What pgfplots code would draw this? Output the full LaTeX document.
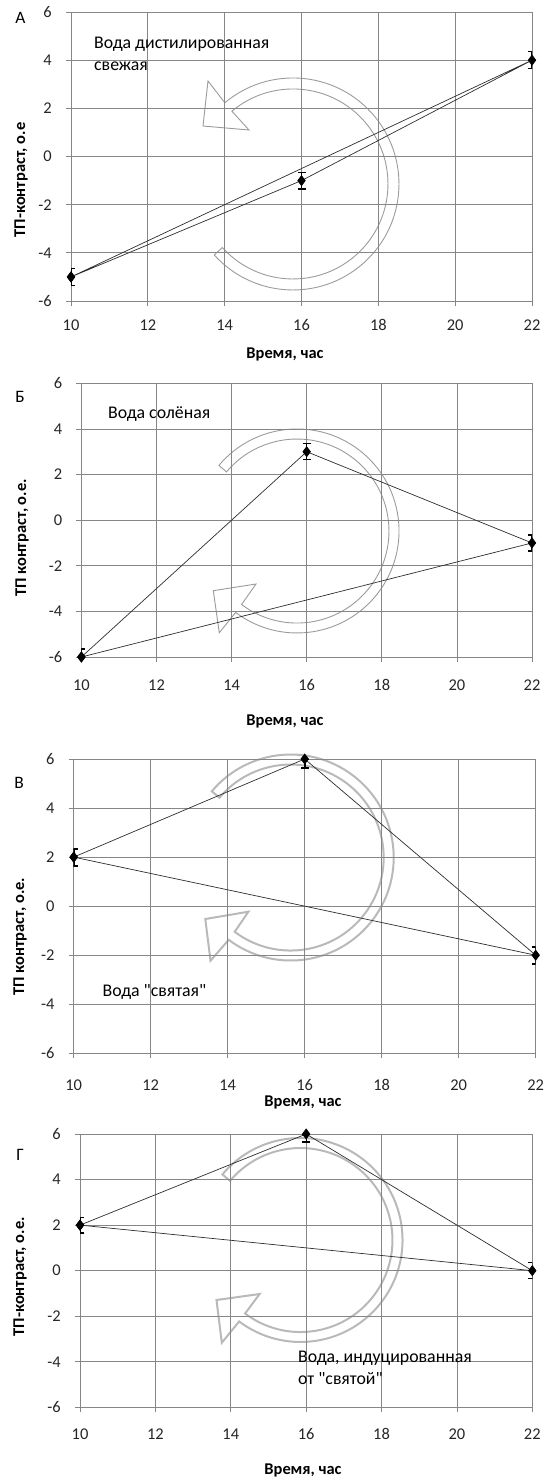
\documentclass[border=0pt]{standalone}
\usepackage{fontspec}
\setmainfont{Carlito}
\usepackage{pgfplots}
\pgfplotsset{compat=1.18}

\definecolor{gridc}{RGB}{134,134,134}
\definecolor{linec}{RGB}{45,45,45}
\definecolor{arrowc}{RGB}{155,155,155}
\definecolor{arrowl}{RGB}{185,185,185}

\newcommand{\labfont}{\fontsize{16.5}{18}\selectfont\bfseries}
\newcommand{\txtfont}{\fontsize{17.5}{21.8}\selectfont}
% plain font without TeX mapping, so that " stays straight
\font\notefont="Carlito" at 17.8bp

\pgfplotsset{
  panel/.style={
    scale only axis,
    xmin=10, xmax=22, ymin=-6, ymax=6,
    xtick={10,12,...,22}, xticklabels={10,12,14,16,18,20,22},
    ytick={-6,-4,...,6}, yticklabels={-6,-4,-2,0,2,4,6},
    grid=major,
    major grid style={gridc, line width=0.8bp},
    axis line style={gridc, line width=0.8bp},
    tick style={gridc, line width=0.8bp},
    tick align=outside, major tick length=5bp, tick pos=left,
    ticklabel style={font=\fontsize{16.5}{18}\selectfont, text=black!85},
    xticklabel style={anchor=base, yshift=-27bp},
    yticklabel style={anchor=east, inner sep=0pt, xshift=-14bp},
  },
  data/.style={linec, line width=0.7bp, mark=diamond*, mark size=5bp,
    mark options={black, solid},
    error bars/y dir=both, error bars/y explicit,
    error bars/error bar style={black, line width=#1},
    error bars/error mark options={rotate=90, black, mark size=4bp, line width=#1}},
  data/.default=1.2bp,
}

% time, contrast, error up, error down
\pgfplotstableread{
x  y  ep   em
10 -5 0.35 0.35
16 -1 0.35 0.35
22  4 0.35 0.35
10 -5 0.35 0.35
}\distilled
\pgfplotstableread{
x  y  ep   em
10 -6 0.35 0
16  3 0.35 0.35
22 -1 0.35 0.35
10 -6 0.35 0
}\salted
\pgfplotstableread{
x  y  ep   em
10  2 0.35 0.35
16  6 0    0.35
22 -2 0.35 0.35
10  2 0.35 0.35
}\holy
\pgfplotstableread{
x  y  ep   em
10  2 0.35 0.35
16  6 0    0.35
22  0 0.35 0.35
10  2 0.35 0.35
}\induced

\begin{document}
\begin{tikzpicture}
\useasboundingbox (0,0) rectangle (547bp,-1482bp);

% circular arrows
\draw[arrowc, line width=0.9bp] (214.2bp,-254.9bp)
  arc[start angle=-138, end angle=130, radius=106bp]
  -- (208bp,-81bp) -- (203bp,-126bp) -- (249bp,-130bp)
  -- (231.9bp,-111.2bp)
  arc[start angle=130, end angle=-138, radius=95bp] -- cycle;
\draw[arrowc, line width=0.9bp] (218.9bp,-465.4bp)
  arc[start angle=140, end angle=-127, radius=102bp]
  -- (219.3bp,-632.7bp) -- (213.3bp,-590.7bp) -- (256bp,-584bp)
  -- (241.6bp,-604.5bp)
  arc[start angle=-127, end angle=140, radius=92bp] -- cycle;
\draw[arrowl, line width=2bp] (211.8bp,-791.3bp)
  arc[start angle=140, end angle=-127, radius=103bp]
  -- (210.5bp,-960.7bp) -- (205.3bp,-919bp) -- (248.4bp,-911.7bp)
  -- (234.7bp,-931.8bp)
  arc[start angle=-127, end angle=140, radius=93bp] -- cycle;
\draw[arrowl, line width=2bp] (222.4bp,-1174.4bp)
  arc[start angle=140, end angle=-127, radius=102bp]
  -- (221.8bp,-1342.7bp) -- (216.5bp,-1300bp) -- (259.6bp,-1294bp)
  -- (245.1bp,-1313.5bp)
  arc[start angle=-127, end angle=140, radius=92bp] -- cycle;

% A
\begin{axis}[panel, at={(71bp,-301bp)}, anchor=south west,
  width=461bp, height=289bp, xticklabel style={yshift=3bp}]
\addplot[data] table[x=x, y=y, y error plus=ep, y error minus=em] {\distilled};
\end{axis}
% Б
\begin{axis}[panel, at={(81.4bp,-657bp)}, anchor=south west,
  width=450.6bp, height=273.7bp, xticklabel style={yshift=-1bp}]
\addplot[data] table[x=x, y=y, y error plus=ep, y error minus=em] {\salted};
\end{axis}
% В
\begin{axis}[panel, at={(73.7bp,-1053.3bp)}, anchor=south west,
  width=462bp, height=294.3bp, xticklabel style={yshift=-5bp}]
\addplot[data=2bp] table[x=x, y=y, y error plus=ep, y error minus=em] {\holy};
\end{axis}
% Г
\begin{axis}[panel, at={(80bp,-1407.3bp)}, anchor=south west,
  width=452.3bp, height=273.3bp]
\addplot[data] table[x=x, y=y, y error plus=ep, y error minus=em] {\induced};
\end{axis}

% panel letters
\node[font=\txtfont] at (20.5bp,-18bp) {А};
\node[font=\txtfont] at (20bp,-397bp) {Б};
\node[font=\txtfont] at (19bp,-783bp) {В};
\node[font=\txtfont] at (20bp,-1155bp) {Г};

% axis titles
\node[font=\labfont] at (285bp,-354bp) {Время, час};
\node[font=\labfont] at (285bp,-721bp) {Время, час};
\node[font=\labfont] at (303bp,-1102.7bp) {Время, час};
\node[font=\labfont] at (303bp,-1470.7bp) {Время, час};
\node[font=\labfont, rotate=90] at (21bp,-180bp) {ТП-контраст, о.е};
\node[font=\labfont, rotate=90] at (22bp,-538bp) {ТП контраст, о.е.};
\node[font=\labfont, rotate=90] at (20bp,-936.7bp) {ТП контраст, о.е.};
\node[font=\labfont, rotate=90] at (20bp,-1276.7bp) {ТП-контраст, о.е.};

% notes
\node[font=\txtfont\notefont, anchor=west, align=left, inner sep=0pt] at (94bp,-54bp)
  {Вода дистилированная\\свежая};
\node[font=\txtfont\notefont, anchor=west, inner sep=0pt] at (108bp,-414bp) {Вода солёная};
\node[font=\txtfont\notefont, anchor=west, inner sep=0pt] at (102.5bp,-991.7bp) {Вода "святая"};
\node[font=\txtfont\notefont, anchor=west, align=left, inner sep=0pt] at (298bp,-1367.5bp)
  {Вода, индуцированная\\от "святой"};
\end{tikzpicture}
\end{document}
